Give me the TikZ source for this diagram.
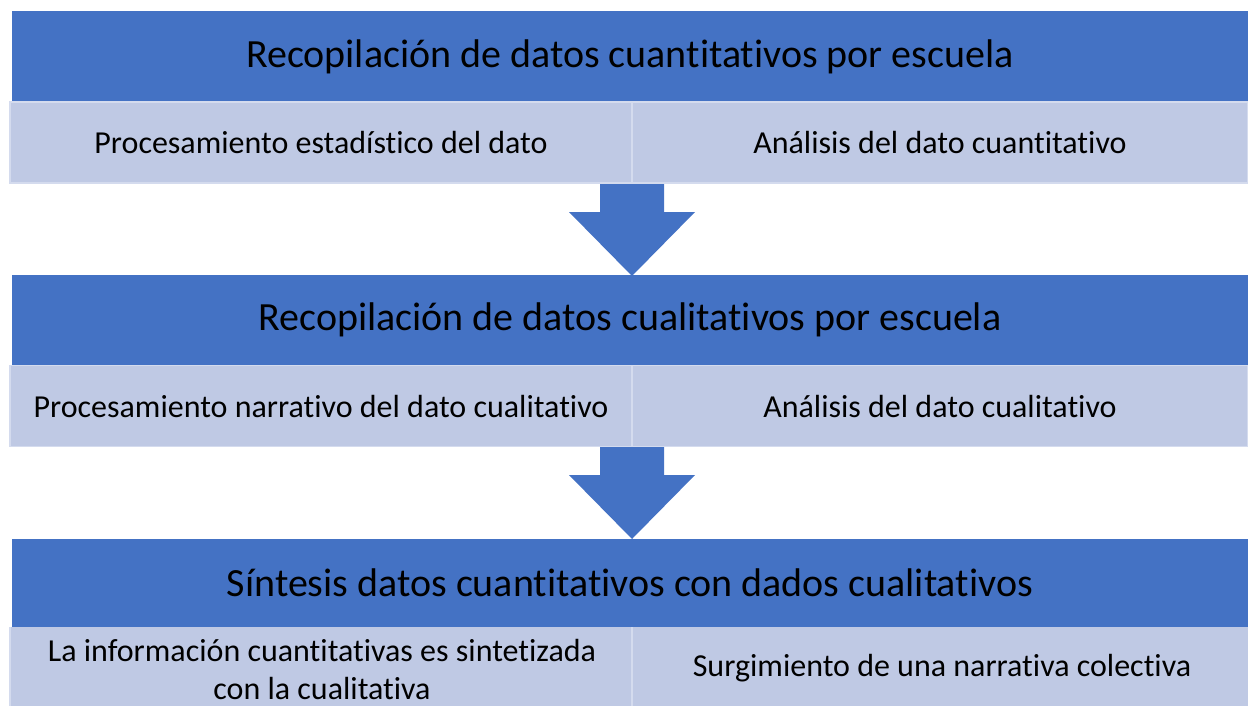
\documentclass[tikz,border=0pt]{standalone}
\usepackage{fontspec}
\setmainfont[Ligatures={NoCommon}]{Carlito}
\definecolor{hdrblue}{RGB}{68,114,196}
\definecolor{subblue}{RGB}{191,201,228}
\definecolor{divline}{RGB}{212,219,238}
\tikzset{
  header/.style={rectangle, fill=hdrblue, draw=none, inner sep=0pt, minimum width=1236pt, minimum height=91pt, font=\fontsize{40}{48}\selectfont, text=black},
  subcell/.style={rectangle, fill=subblue, draw=divline, line width=1.2pt, inner sep=0pt, font=\fontsize{32}{38}\selectfont, text=black, align=center},
  downarrow/.style={fill=hdrblue, draw=none}
}
\begin{document}
\begin{tikzpicture}[x=1pt,y=-1pt]
\useasboundingbox (0,0) rectangle (1248,705);
% row 1
\node[header] (h1) at (630,56.5) {Recopilación de datos cuantitativos por escuela};
\node[subcell, minimum width=622pt, minimum height=81pt] (s1l) at (321,142.5) {Procesamiento estadístico del dato};
\node[subcell, minimum width=616pt, minimum height=81pt] (s1r) at (940,142.5) {Análisis del dato cuantitativo};
% arrow 1
\path[downarrow] (600,184) -- (664,184) -- (664,212) -- (695,212) -- (632,276) -- (569,212) -- (600,212) -- cycle;
% row 2
\node[header] (h2) at (630,320) {Recopilación de datos cualitativos por escuela};
\node[subcell, minimum width=622pt, minimum height=81pt] (s2l) at (321,406) {Procesamiento narrativo del dato cualitativo};
\node[subcell, minimum width=616pt, minimum height=81pt] (s2r) at (940,406) {Análisis del dato cualitativo};
% arrow 2
\path[downarrow] (600,447) -- (664,447) -- (664,475) -- (695,475) -- (632,539) -- (569,475) -- (600,475) -- cycle;
% row 3
\node[header, minimum height=89pt] (h3) at (630,583) {Síntesis datos cuantitativos con dados cualitativos};
\fill[subblue] (10,627) rectangle (1248,706);
\draw[divline, line width=1.2pt] (632,627) -- (632,706);
\draw[divline, line width=1.2pt] (10,627) -- (10,706);
\node[font=\fontsize{32}{38}\selectfont, align=center, inner sep=0pt] (s3l) at (322,669) {La información cuantitativas es sintetizada\\con la cualitativa};
\node[font=\fontsize{32}{38}\selectfont, inner sep=0pt] (s3r) at (942,668) {Surgimiento de una narrativa colectiva};
\end{tikzpicture}
\end{document}
